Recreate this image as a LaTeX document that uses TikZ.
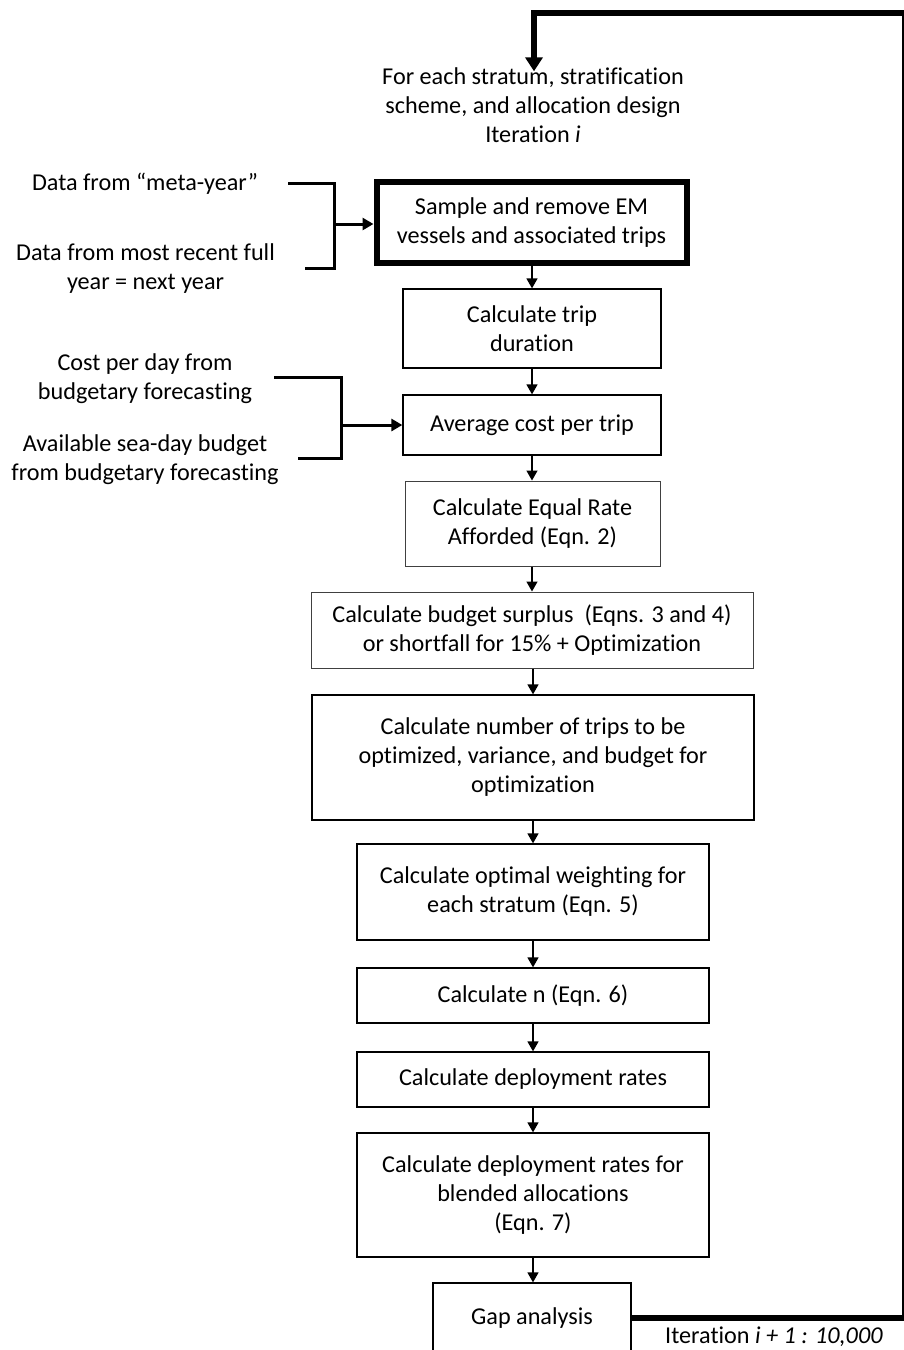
\documentclass[tikz,border=0pt]{standalone}
\usepackage{fontspec}
\setmainfont{Carlito}[Ligatures=NoCommon]
\usetikzlibrary{arrows.meta}
\begin{document}
\begin{tikzpicture}[x=1pt,y=-1pt,
  txt/.style={font=\fontsize{24.2}{29}\selectfont, align=center, inner sep=0pt},
  box/.style={txt, draw=black, line width=1.3pt, rectangle, fill=white},
  gbox/.style={box, draw=black!75, line width=1pt},
  arr/.style={line width=1.5pt, -{Triangle[width=11pt,length=10pt]}},
  brk/.style={line width=3pt},
  barr/.style={line width=3pt, -{Triangle[width=12pt,length=11pt]}},
  loop/.style={line width=6pt},
  looparr/.style={line width=6pt, -{Triangle[width=17pt,length=14pt]}}
]
\useasboundingbox (0,0) rectangle (904,1350);

% top text
\node[txt] (top) at (533,105) {For each stratum, stratification\\scheme, and allocation design\\Iteration \textit{i}};

% boxes
\node[box, line width=6pt, minimum width=310pt, minimum height=81pt] (sample) at (531.5,222.5) {Sample and remove EM\\vessels and associated trips};
\node[box, minimum width=258pt, minimum height=79pt] (trip) at (532,328.5) {Calculate trip\\duration};
\node[box, minimum width=258pt, minimum height=60pt] (avg) at (532,425) {Average cost per trip};
\node[gbox, minimum width=255pt, minimum height=85pt] (equal) at (532.5,523.5) {Calculate Equal Rate\\Afforded (Eqn. 2)};
\node[gbox, minimum width=442pt, minimum height=76pt] (surplus) at (532,630) {Calculate budget surplus~~(Eqns. 3 and 4)\\or shortfall for 15\% + Optimization};
\node[box, minimum width=442pt, minimum height=125pt] (ntrips) at (533,757.5) {Calculate number of trips to be\\optimized, variance, and budget for\\optimization};
\node[box, minimum width=352pt, minimum height=96pt] (weight) at (533,892) {Calculate optimal weighting for\\each stratum (Eqn. 5)};
\node[box, minimum width=352pt, minimum height=55pt] (calcn) at (533,995.5) {Calculate n (Eqn. 6)};
\node[box, minimum width=352pt, minimum height=55pt] (deploy) at (533,1079.5) {Calculate deployment rates};
\node[box, minimum width=352pt, minimum height=124pt] (blend) at (533,1195) {Calculate deployment rates for\\blended allocations\\(Eqn. 7)};
\node[box, minimum width=198pt, minimum height=70pt] (gap) at (532,1318) {Gap analysis};

% vertical arrows
\draw[arr] (sample.south -| trip.north) -- (trip.north);
\draw[arr] (trip.south) -- (avg.north);
\draw[arr] (avg.south) -- (equal.north -| avg.south);
\draw[arr] (equal.south -| avg.south) -- (surplus.north -| avg.south);
\draw[arr] (surplus.south -| ntrips.south) -- (ntrips.north);
\draw[arr] (ntrips.south) -- (weight.north);
\draw[arr] (weight.south) -- (calcn.north);
\draw[arr] (calcn.south) -- (deploy.north);
\draw[arr] (deploy.south) -- (blend.north);
\draw[arr] (blend.south) -- (gap.north -| blend.south);

% left inputs, bracket 1
\node[txt] (data1) at (145,184) {Data from “meta-year”};
\node[txt] (data2) at (145.5,269) {Data from most recent full\\year = next year};
\coordinate (b1a) at (288,183);
\coordinate (b1v) at (334,224);
\coordinate (b1b) at (305,268);
\draw[brk] (b1a) -| (b1v) |- (b1b);
\draw[barr] (b1v) -- (sample.west |- b1v);

% bracket 2
\node[txt] (cost) at (145,378.5) {Cost per day from\\budgetary forecasting};
\node[txt] (avail) at (145,460) {Available sea-day budget\\from budgetary forecasting};
\coordinate (b2a) at (274,377);
\coordinate (b2v) at (341,425);
\coordinate (b2b) at (298,458);
\draw[brk] (b2a) -| (b2v) |- (b2b);
\draw[barr] (b2v) -- (avg.west |- b2v);

% feedback loop
\coordinate (lr) at (904.5,1318);
\coordinate (tr) at (904.5,12.5);
\coordinate (tl) at (534,12.5);
\draw[loop] (gap.east |- lr) -- (lr) -- (tr) -- ([xshift=-3pt]tl);
\draw[looparr] ([yshift=-3pt]tl) -- ([yshift=-4pt]top.north -| tl);
\node[txt, anchor=west] (iter) at (665,1337) {Iteration \textit{i + 1 : 10,000}};
\end{tikzpicture}
\end{document}
